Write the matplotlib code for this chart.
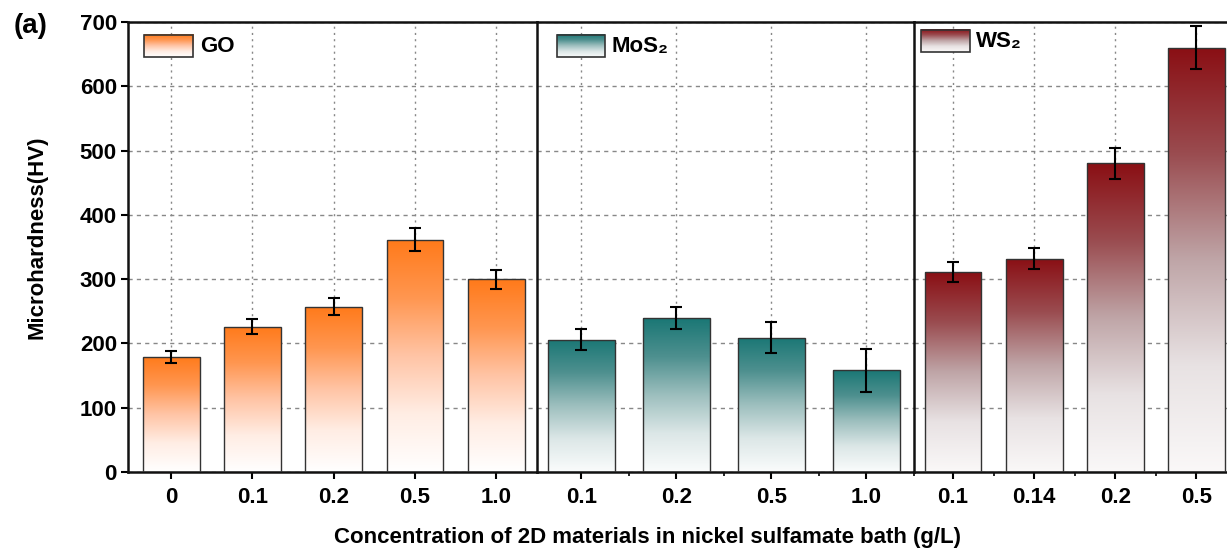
import matplotlib
matplotlib.use("Agg")
import matplotlib.pyplot as plt
import numpy as np
from matplotlib.colors import LinearSegmentedColormap
from matplotlib.patches import Rectangle

plt.rcParams['font.family'] = ['Liberation Sans', 'DejaVu Sans']
plt.rcParams['font.weight'] = 'bold'

# microhardness (HV) with standard deviations, per additive
go_conc = ['0', '0.1', '0.2', '0.5', '1.0']
go_hv = [179, 226, 257, 361, 300]
go_err = [9, 12, 13, 18, 15]

mos2_conc = ['0.1', '0.2', '0.5', '1.0']
mos2_hv = [206, 239, 209, 158]
mos2_err = [16, 17, 24, 33]

ws2_conc = ['0.1', '0.14', '0.2', '0.5']
ws2_hv = [311, 332, 480, 660]
ws2_err = [16, 16, 24, 33]

names = ['GO', 'MoS₂', 'WS₂']

# bottom -> top gradient stops for each fill
gradients = [
    ['#FFFFFF', '#FFEDE4', '#FFC4A5', '#FF9650', '#FF7A1A'],
    ['#FAFCFC', '#DCE7E7', '#9DBFBE', '#4E908F', '#1A7775'],
    ['#FAF8F8', '#E8E2E3', '#BFA5A7', '#9A4C50', '#8A0F14'],
]

fig = plt.figure(figsize=(12.27, 5.53), dpi=100)
W, H = 1227, 553
y0, y1 = 472, 22

# panel extents in pixels and x-limits in category units
panels = [
    (128, 537, (-0.53, 4.50), go_conc, go_hv, go_err, False, (0.039, 0.159, 0.922, 0.971), 0.176),
    (537, 914, (-0.466, 3.50), mos2_conc, mos2_hv, mos2_err, True, (0.053, 0.180, 0.922, 0.971), 0.198),
    (914, 1237, (-0.48, 3.48), ws2_conc, ws2_hv, ws2_err, True, (0.022, 0.173, 0.933, 0.982), 0.192),
]

grad = np.linspace(0, 1, 256).reshape(-1, 1)

for i, (px0, px1, xlim, conc, hv, err, minor, leg, txt_x) in enumerate(panels):
    ax = fig.add_axes([px0 / W, 1 - y0 / H, (px1 - px0) / W, (y0 - y1) / H])
    cmap = LinearSegmentedColormap.from_list('g%d' % i, gradients[i])
    x = np.arange(len(conc))

    bars = ax.bar(x, hv, width=0.7, facecolor='none', edgecolor='#333333',
                  linewidth=1.0, zorder=3)
    for rect in bars:
        bx, bw, bh = rect.get_x(), rect.get_width(), rect.get_height()
        im = ax.imshow(grad, extent=[bx, bx + bw, 0, bh], cmap=cmap, origin='lower',
                       aspect='auto', zorder=2, vmin=0, vmax=1)
        im.set_clip_path(rect)
    ax.errorbar(x, hv, yerr=err, fmt='none', ecolor='black', elinewidth=1.5,
                capsize=4, capthick=1.5, zorder=4)

    # legend swatch with the same gradient
    lx0, lx1, ly0, ly1 = leg
    ax.imshow(grad, extent=[lx0, lx1, ly0, ly1], transform=ax.transAxes, cmap=cmap,
              origin='lower', aspect='auto', zorder=5, vmin=0, vmax=1)
    ax.add_patch(Rectangle((lx0, ly0), lx1 - lx0, ly1 - ly0, transform=ax.transAxes,
                           fill=False, edgecolor='#333333', linewidth=1.2, zorder=6))
    ax.text(txt_x, (ly0 + ly1) / 2, names[i], transform=ax.transAxes, fontsize=16,
            fontweight='bold', va='center', ha='left', zorder=6)

    ax.set_xlim(*xlim)
    ax.set_ylim(0, 700)
    ax.set_aspect('auto')
    ax.set_xticks(x)
    ax.set_xticklabels(conc)
    if minor:
        ax.set_xticks(np.arange(0.5, len(conc), 1.0), minor=True)
    ax.set_yticks(np.arange(0, 701, 100))
    ax.set_axisbelow(True)
    ax.yaxis.grid(True, linestyle=(0, (3, 3)), color='#888888', linewidth=1.0)
    ax.xaxis.grid(True, linestyle=(0, (1.5, 3)), color='#888888', linewidth=1.0)

    ax.tick_params(axis='x', which='major', direction='out', length=5, width=1.5,
                   labelsize=16, pad=6)
    ax.tick_params(axis='x', which='minor', direction='out', length=3, width=1.2)
    if i == 0:
        ax.tick_params(axis='y', direction='out', length=5, width=1.5, labelsize=16, pad=3)
    else:
        ax.tick_params(axis='y', left=False, labelleft=False)
    for side, sp in ax.spines.items():
        sp.set_linewidth(1.8)
        sp.set_color('#111111')
    if i < 2:
        ax.spines['right'].set_visible(False)

fig.text(648 / W, 1 - 537 / H, 'Concentration of 2D materials in nickel sulfamate bath (g/L)',
         ha='center', va='center', fontsize=16, fontweight='bold')
fig.text(37 / W, 1 - 237 / H, 'Microhardness(HV)', rotation=90, ha='center', va='center',
         fontsize=16, fontweight='bold')
fig.text(14 / W, 1 - 26 / H, '(a)', ha='left', va='center', fontsize=20, fontweight='bold')

fig.savefig('out.png', dpi=100)
